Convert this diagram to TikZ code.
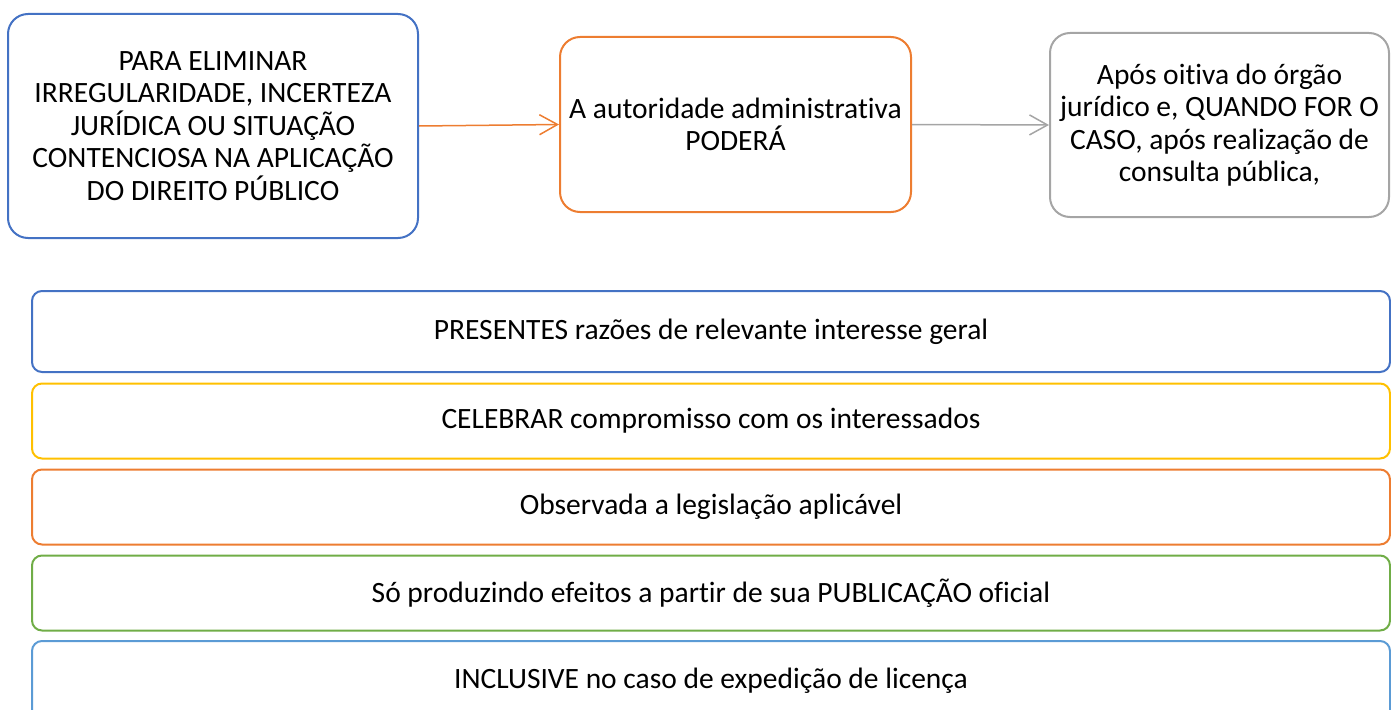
\documentclass[tikz,border=0pt]{standalone}
\usepackage{fontspec}
\setmainfont{Carlito}[Ligatures={NoCommon}]
\usetikzlibrary{arrows.meta}
\definecolor{cblue}{HTML}{4472C4}
\definecolor{corange}{HTML}{ED7D31}
\definecolor{cgray}{HTML}{A5A5A5}
\definecolor{cyellow}{HTML}{FFC000}
\definecolor{cgreen}{HTML}{70AD47}
\definecolor{clblue}{HTML}{5B9BD5}
\tikzset{
  topbox/.style={draw, line width=2pt, rounded corners=20pt, align=center, inner sep=0pt,
    font=\fontsize{29.5}{32.5}\selectfont},
  rowbox/.style={draw, line width=2pt, rounded corners=10pt, align=center, inner sep=0pt,
    minimum width=1358, font=\fontsize{29.5}{32.5}\selectfont},
  conn/.style={line width=1.5pt, -{Straight Barb[length=18pt,width=20pt,line width=1.5pt]}}
}
\begin{document}
\begin{tikzpicture}[x=1pt,y=-1pt]
\useasboundingbox (0,0) rectangle (1391,709);
\clip (0,0) rectangle (1391,709);
\node[topbox, draw=cblue, minimum width=410, minimum height=224] (b1) at (213,126)
  {PARA ELIMINAR\\IRREGULARIDADE, INCERTEZA\\JURÍDICA OU SITUAÇÃO\\CONTENCIOSA NA APLICAÇÃO\\DO DIREITO PÚBLICO};
\node[topbox, draw=corange, minimum width=351, minimum height=175] (b2) at (735.5,124.5)
  {A autoridade administrativa\\PODERÁ};
\node[topbox, draw=cgray, minimum width=339, minimum height=184] (b3) at (1219.5,125)
  {Após oitiva do órgão\\jurídico e, QUANDO FOR O\\CASO, após realização de\\consulta pública,};
\draw[conn, draw=corange] (b1.east) -- (b2.west);
\draw[conn, draw=cgray] (b2.east) -- (b3.west);
\node[rowbox, draw=cblue, minimum height=81] (r1) at (711,331.5) {PRESENTES razões de relevante interesse geral};
\node[rowbox, draw=cyellow, minimum height=75] (r2) at (711,421) {CELEBRAR compromisso com os interessados};
\node[rowbox, draw=corange, minimum height=75] (r3) at (711,507) {Observada a legislação aplicável};
\node[rowbox, draw=cgreen, minimum height=75] (r4) at (711,593) {Só produzindo efeitos a partir de sua PUBLICAÇÃO oficial};
\node[rowbox, draw=clblue, minimum height=80] (r5) at (711,681) {INCLUSIVE no caso de expedição de licença};
\end{tikzpicture}
\end{document}
